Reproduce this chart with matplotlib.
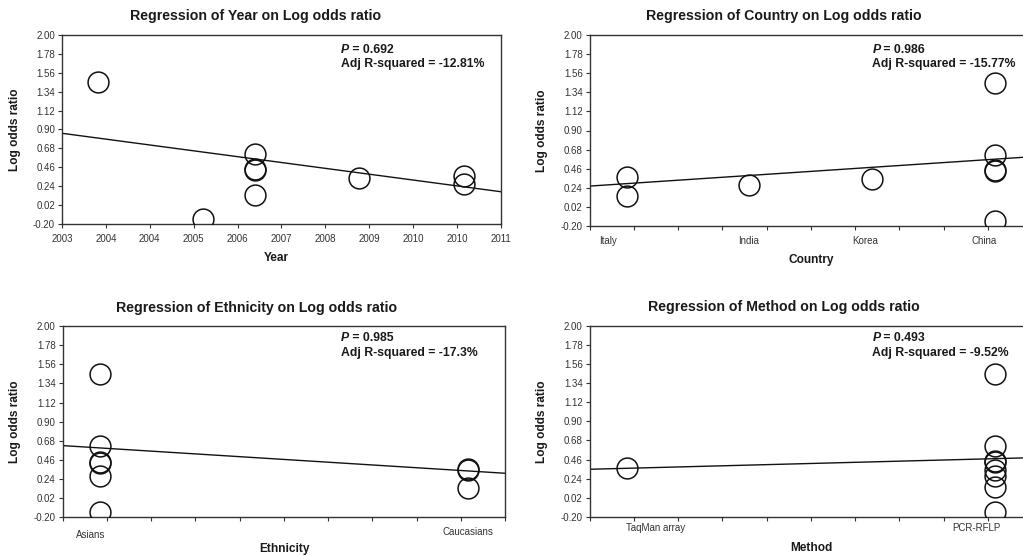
import matplotlib
matplotlib.use("Agg")
import matplotlib.pyplot as plt
import numpy as np

plt.rcParams['font.family'] = ['Liberation Sans', 'DejaVu Sans']

# ---------------- data ----------------
log_or = [1.45, -0.14, 0.62, 0.44, 0.43, 0.14, 0.34, 0.36, 0.27]
year = [2004, 2006, 2007, 2007, 2007, 2007, 2009, 2011, 2011]
country = ["China", "China", "China", "China", "China", "Italy", "Korea", "Italy", "India"]
ethnicity = ["Asians", "Asians", "Asians", "Asians", "Asians",
             "Caucasians", "Caucasians", "Caucasians", "Asians"]
method = ["PCR-RFLP", "PCR-RFLP", "PCR-RFLP", "PCR-RFLP", "PCR-RFLP",
          "PCR-RFLP", "PCR-RFLP", "TaqMan array", "PCR-RFLP"]

country_order = ["Italy", "India", "Korea", "China"]
ethnicity_order = ["Asians", "Caucasians"]
method_order = ["TaqMan array", "PCR-RFLP"]
year_ticklabels = ["2003", "2004", "2004", "2005", "2006", "2007",
                   "2008", "2009", "2010", "2010", "2011"]
y_ticklabels = ["-0.20", "0.02", "0.24", "0.46", "0.68", "0.90",
                "1.12", "1.34", "1.56", "1.78", "2.00"]

titles = ["Regression of Year on Log odds ratio",
          "Regression of Country on Log odds ratio",
          "Regression of Ethnicity on Log odds ratio",
          "Regression of Method on Log odds ratio"]
xlabels = ["Year", "Country", "Ethnicity", "Method"]
p_values = ["0.692", "0.986", "0.985", "0.493"]
adj_r2 = ["-12.81%", "-15.77%", "-17.3%", "-9.52%"]

# fitted meta-regression lines: (value at reference x, slope)
fit_year = (0.557, -0.081)      # reference: 2007
fit_country = (0.288, 0.094)    # reference: Italy (x=1)
fit_ethnicity = (0.598, -0.265) # reference: Asians (x=1)
fit_method = (0.360, 0.111)     # reference: TaqMan array (x=1)

# ---------------- figure ----------------
W, H = 1023, 556
fig = plt.figure(figsize=(W / 100, H / 100), dpi=100)
fig.patch.set_facecolor("white")

TXT = "#1a1a1a"
TICK = "#333333"


def ax_px(left, right, top, bottom):
    return fig.add_axes([left / W, 1 - bottom / H, (right - left) / W, (bottom - top) / H])


def style(ax, xlim):
    y = [float(v) for v in y_ticklabels]
    ax.set_ylim(y[0], y[-1])
    ax.set_yticks(y)
    ax.set_yticklabels(y_ticklabels)
    ax.set_xlim(*xlim)
    for s in ax.spines.values():
        s.set_color("#333333")
        s.set_linewidth(1.0)
    ax.tick_params(axis="y", direction="out", length=3, width=0.8, color=TICK,
                   labelsize=7, labelcolor=TICK, pad=2)
    ax.tick_params(axis="x", which="both", direction="out", color=TICK,
                   labelsize=7, labelcolor=TICK)


def circles(ax, x, y):
    ax.plot(x, y, linestyle="none", marker="o", markersize=15,
            markerfacecolor="none", markeredgecolor="#111111", markeredgewidth=1.1,
            zorder=3)


def fit_line(ax, ref_x, fit):
    x0, x1 = ax.get_xlim()
    xs = np.array([x0, x1])
    ax.plot(xs, fit[0] + fit[1] * (xs - ref_x), color="#111111", lw=1.0, zorder=2)


def px(x, y):
    return x / W, 1 - y / H


ANN_FS = 8.8


def annot(x, y1, y2, p, r2):
    t = fig.text(*px(x, y1), "P", fontsize=ANN_FS, fontweight="bold", fontstyle="italic",
                 color=TXT, va="center", ha="left")
    plt.annotate(" = " + p, xy=(1, 0.5), xycoords=t, va="center", ha="left",
                 fontsize=ANN_FS, fontweight="bold", color=TXT, annotation_clip=False)
    fig.text(*px(x, y2), "Adj R-squared = " + r2, fontsize=ANN_FS, fontweight="bold",
             color=TXT, va="center", ha="left")


# ---- panel 1: year ----
ax1 = ax_px(62, 501, 35, 224)
x0 = 2003.31
step = 0.84
style(ax1, (x0, x0 + 10 * step))
ax1.set_xticks([x0 + i * step for i in range(len(year_ticklabels))])
ax1.set_xticklabels(year_ticklabels)
ax1.tick_params(axis="x", length=3, pad=4)
fit_line(ax1, 2007, fit_year)
circles(ax1, year, log_or)


def categorical(ax, order, values, xlim, minor_step, label_offsets, pads, ref_fit):
    style(ax, xlim)
    xs = [order.index(v) + 1 for v in values]
    n = int(round((xlim[1] - xlim[0]) / minor_step))
    ax.set_xticks([xlim[0] + i * minor_step for i in range(n + 1)], minor=True)
    ax.set_xticks([i + 1 + label_offsets[i] for i in range(len(order))])
    ax.set_xticklabels(order)
    ax.tick_params(axis="x", which="major", length=0, pad=pads[0])
    ax.tick_params(axis="x", which="minor", length=3, width=0.8)
    for lab, pd in zip(ax.get_xticklabels(), pads):
        lab.set_y(-(pd - pads[0]) / 72.0 * 0)
    fit_line(ax, 1, ref_fit)
    circles(ax, xs, log_or)


# ---- panel 2: country ----
ax2 = ax_px(589.7, 1032, 35, 226)
categorical(ax2, country_order, country, (0.70, 4.30), 0.36,
            [-0.15, -0.01, -0.06, -0.09], [7], fit_country)

# ---- panel 3: ethnicity ----
ax3 = ax_px(62.7, 505, 326, 517.3)
categorical(ax3, ethnicity_order, ethnicity, (0.90, 2.10), 0.12,
            [-0.025, 0.0], [9], fit_ethnicity)
# "Caucasians" label sits a little higher in the original
ax3.get_xticklabels()[1].set_transform(
    ax3.get_xticklabels()[1].get_transform()
    + matplotlib.transforms.ScaledTranslation(0, 3 / 100, fig.dpi_scale_trans))

# ---- panel 4: method ----
ax4 = ax_px(589.7, 1032, 325.7, 517)
categorical(ax4, method_order, method, (0.90, 2.10), 0.12,
            [0.08, -0.05], [4], fit_method)

# titles
title_pos = [(256, 16), (784, 15.7), (256.3, 307.7), (783.8, 306.7)]
for (x, y), t in zip(title_pos, titles):
    fig.text(*px(x, y), t, fontsize=10.2, fontweight="bold", color=TXT,
             ha="center", va="center")

# x labels
xl_pos = [(276.7, 257.7), (811.3, 260), (284.3, 548.7), (811.3, 548.3)]
for (x, y), t in zip(xl_pos, xlabels):
    fig.text(*px(x, y), t, fontsize=8.6, fontweight="bold", color=TXT,
             ha="center", va="center")

# y labels
yl_pos = [(15, 130), (542, 130.5), (15, 421.7), (542, 421.3)]
for (x, y) in yl_pos:
    fig.text(*px(x, y), "Log odds ratio", fontsize=8.6, fontweight="bold", color=TXT,
             ha="center", va="center", rotation=90)

# annotations
ann_pos = [(340.7, 50, 64.3), (872.3, 49.7, 64), (340.7, 338.3, 353), (872.3, 338, 353)]
for (x, y1, y2), p, r2 in zip(ann_pos, p_values, adj_r2):
    annot(x, y1, y2, p, r2)

fig.savefig("out.png", dpi=100, facecolor="white")
